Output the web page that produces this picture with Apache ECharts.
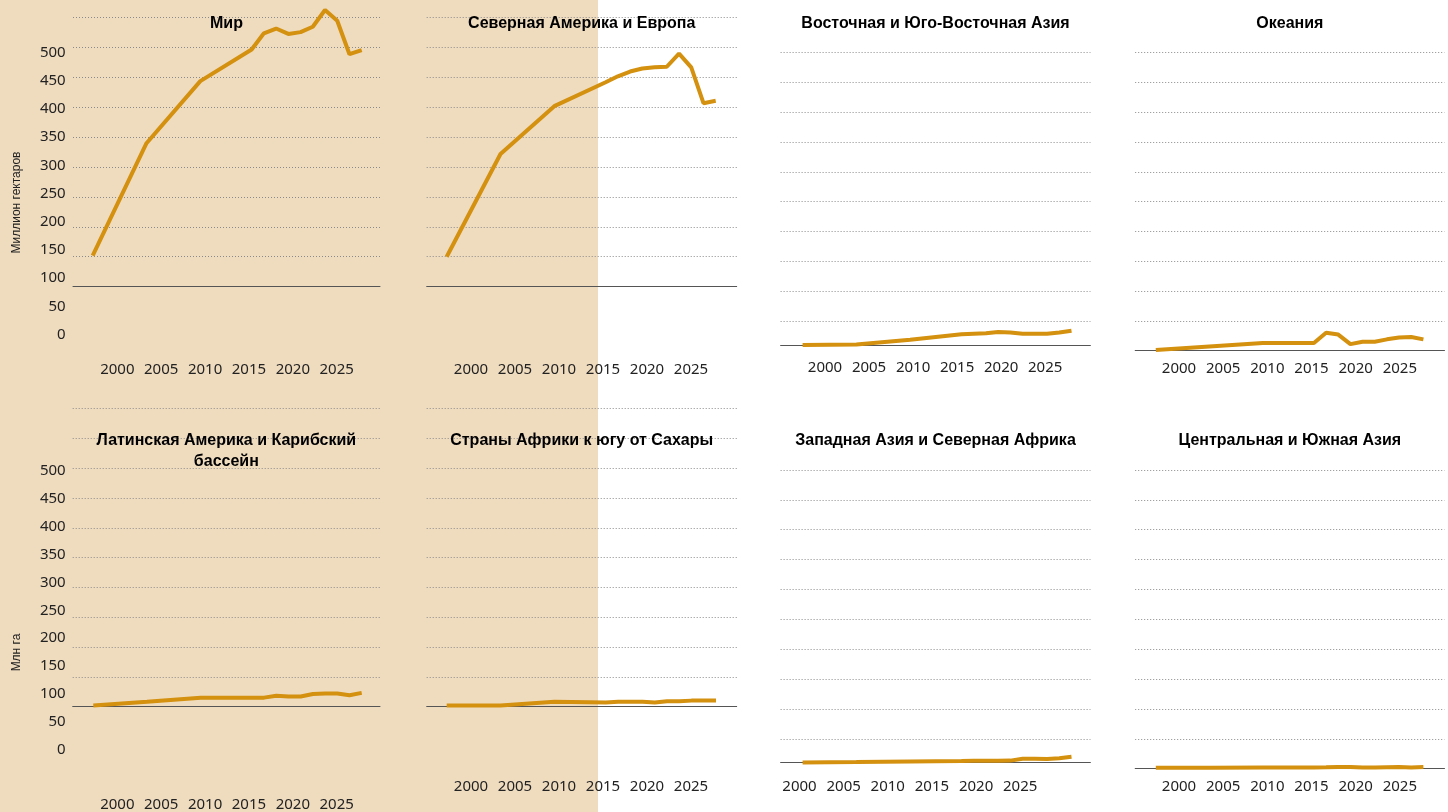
<!DOCTYPE html>
<html>
<head>
<meta charset="utf-8">
<script src="https://cdn.jsdelivr.net/npm/echarts@6/dist/echarts.min.js"></script>
<style>
html, body { margin: 0; padding: 0; }
#chart {
    width: 1448px;
    height: 812px;
    background: linear-gradient(to right, #efdcbf 0, #efdcbf 598px, #fff 598px);
}
</style>
</head>
<body>
<div id="chart"></div>
<script>
// data (million ha), same years for every region
const years = [2000, 2004.4, 2008.8, 2013, 2014, 2015, 2016, 2017, 2018, 2019, 2020, 2021, 2022];
const world = [51, 239, 343, 396, 423, 431, 422, 425, 434, 462, 444, 388, 395];
const northAmericaEurope = [49, 221, 301, 341, 351, 359, 364, 366, 367, 389, 366, 306, 310];
const eastAsia = [1, 2, 10, 19, 20, 21, 23, 22, 20, 20, 20, 22, 25];
const oceania = [1, 7, 13, 13, 30, 27, 11, 15, 15, 19, 22, 23, 19];
const latinAmerica = [1, 7, 14, 14, 14, 17, 16, 16, 20, 21, 21, 18, 22];
const subSaharanAfrica = [1, 1, 7, 6, 7, 7, 7, 6, 8, 8, 9, 9, 9];
const westAsia = [0.5, 1, 2, 3, 3.3, 3.3, 3.3, 3.5, 6.5, 6.5, 6.3, 7.5, 10];
const centralAsia = [0.5, 0.5, 0.7, 1, 1.2, 1.8, 1.7, 1, 0.7, 1.2, 1.5, 1, 1.8];

// tick labels
const yearLabels = [2000, 2005, 2010, 2015, 2020, 2025];
const valueLabels = [0, 50, 100, 150, 200, 250, 300, 350, 400, 450, 500];

const STEP = 29.87; // px between dotted lines (= 50 units)
const LINE = '#d4900f';
const TITLE_FONT = '"Liberation Sans", "Noto Sans", sans-serif';
const TICK_FONT = '"Noto Sans", "Open Sans", sans-serif';

const panels = [
    { title: 'Мир', values: world, gridL: 73, gridR: 380, dotTop: 17.7, dots: 9, base: 286,
      dataL: 92.7, dataR: 361.7, tick0: 117.3, tick1: 336.7, tickY: 368.3, titleY: 13,
      axis: { y0: 334.7, y1: 52.3, right: 65.7, name: 'Миллион гектаров', nameY: 202.5 } },
    { title: 'Северная Америка и Европа', values: northAmericaEurope, gridL: 426.7, gridR: 736.7, dotTop: 17.7, dots: 9, base: 286,
      dataL: 446.7, dataR: 715.7, tick0: 471, tick1: 691, tickY: 368.3, titleY: 13 },
    { title: 'Восточная и Юго-Восточная Азия', values: eastAsia, gridL: 780.6, gridR: 1090.4, dotTop: 52.3, dots: 10, base: 345.7,
      dataL: 802.6, dataR: 1071.5, tick0: 825, tick1: 1045.2, tickY: 366.7, titleY: 13 },
    { title: 'Океания', values: oceania, gridL: 1135.2, gridR: 1444.5, dotTop: 52.3, dots: 10, base: 350.7,
      dataL: 1155.8, dataR: 1423.4, tick0: 1179, tick1: 1399.8, tickY: 367.7, titleY: 13 },
    { title: 'Латинская Америка и Карибский\nбассейн', values: latinAmerica, gridL: 72.7, gridR: 380, dotTop: 408.3, dots: 10, base: 706,
      dataL: 93.3, dataR: 361.7, tick0: 117.3, tick1: 336.7, tickY: 805, titleY: 430,
      axis: { y0: 751.7, y1: 471, right: 65.7, name: 'Млн га', nameY: 652.5 } },
    { title: 'Страны Африки к югу от Сахары', values: subSaharanAfrica, gridL: 426.7, gridR: 736.7, dotTop: 408.3, dots: 10, base: 706,
      dataL: 446.7, dataR: 716, tick0: 471, tick1: 691, tickY: 785, titleY: 430 },
    { title: 'Западная Азия и Северная Африка', values: westAsia, gridL: 780.6, gridR: 1090.4, dotTop: 470, dots: 10, base: 762.7,
      dataL: 802.6, dataR: 1071.5, tick0: 799.5, tick1: 1020.2, tickY: 785, titleY: 430 },
    { title: 'Центральная и Южная Азия', values: centralAsia, gridL: 1135.2, gridR: 1444.5, dotTop: 470, dots: 10, base: 768,
      dataL: 1155.8, dataR: 1423.4, tick0: 1179, tick1: 1399.8, tickY: 785, titleY: 430 }
];

const grid = [], xAxis = [], yAxis = [], series = [], title = [], graphic = [];

panels.forEach(p => {
    // dotted gridlines
    let gi = grid.length;
    grid.push({ left: p.gridL, width: p.gridR - p.gridL, top: p.dotTop, height: (p.dots - 1) * STEP });
    xAxis.push({ gridIndex: gi, type: 'value', show: false, min: 0, max: 1 });
    yAxis.push({
        gridIndex: gi, type: 'value', min: 0, max: p.dots - 1, interval: 1,
        axisLine: { show: false }, axisTick: { show: false }, axisLabel: { show: false },
        splitLine: { show: true, lineStyle: { color: '#8a8a8a', width: 1, type: [1, 2] } }
    });

    // data + baseline
    gi = grid.length;
    let first = years[0], last = years[years.length - 1];
    let pxPerYear = (p.dataR - p.dataL) / (last - first);
    grid.push({ left: p.gridL, width: p.gridR - p.gridL, top: p.base - 9 * STEP, height: 9 * STEP });
    xAxis.push({
        gridIndex: gi, type: 'value',
        min: first - (p.dataL - p.gridL) / pxPerYear,
        max: last + (p.gridR - p.dataR) / pxPerYear,
        axisLine: { show: true, lineStyle: { color: '#555', width: 1 } },
        axisTick: { show: false }, axisLabel: { show: false }, splitLine: { show: false }
    });
    yAxis.push({ gridIndex: gi, type: 'value', min: 0, max: 450, show: false });
    series.push({
        type: 'line', xAxisIndex: gi, yAxisIndex: gi,
        data: years.map((y, i) => [y, p.values[i]]),
        symbol: 'none', clip: false, z: 5,
        lineStyle: { color: LINE, width: 4 }
    });

    // tick labels
    gi = grid.length;
    let top = p.axis ? p.axis.y1 : p.tickY - 120;
    let bottom = p.axis ? p.axis.y0 : p.tickY - 20;
    grid.push({ left: p.tick0, width: p.tick1 - p.tick0, top: top, height: bottom - top });
    xAxis.push({
        gridIndex: gi, type: 'value',
        min: yearLabels[0], max: yearLabels[yearLabels.length - 1], interval: yearLabels[1] - yearLabels[0],
        axisLine: { show: false }, axisTick: { show: false }, splitLine: { show: false },
        axisLabel: {
            margin: p.tickY - 6 - bottom, fontSize: 15, color: '#222', fontFamily: TICK_FONT,
            formatter: v => String(v)
        }
    });
    if (p.axis) {
        yAxis.push({
            gridIndex: gi, type: 'value',
            min: valueLabels[0], max: valueLabels[valueLabels.length - 1], interval: valueLabels[1] - valueLabels[0],
            axisLine: { show: false }, axisTick: { show: false }, splitLine: { show: false },
            axisLabel: { margin: p.tick0 - p.axis.right, fontSize: 15, color: '#222', fontFamily: TICK_FONT }
        });
        graphic.push({
            type: 'text', x: 17, y: p.axis.nameY, rotation: Math.PI / 2,
            style: {
                text: p.axis.name, fill: '#222',
                font: '12px ' + TITLE_FONT,
                align: 'center', verticalAlign: 'middle',
                textAlign: 'center', textVerticalAlign: 'middle'
            }
        });
    } else {
        yAxis.push({ gridIndex: gi, type: 'value', min: 0, max: 1, show: false });
    }

    title.push({
        text: p.title, left: (p.gridL + p.gridR) / 2, top: p.titleY, textAlign: 'center', padding: 0,
        textStyle: { fontFamily: TITLE_FONT, fontWeight: 'bold', fontSize: 16, lineHeight: 21, color: '#000' }
    });
});

let chart = echarts.init(document.getElementById('chart'));
chart.setOption({
    animation: false,
    title: title,
    grid: grid,
    xAxis: xAxis,
    yAxis: yAxis,
    series: series,
    graphic: { elements: graphic }
});
</script>
</body>
</html>
